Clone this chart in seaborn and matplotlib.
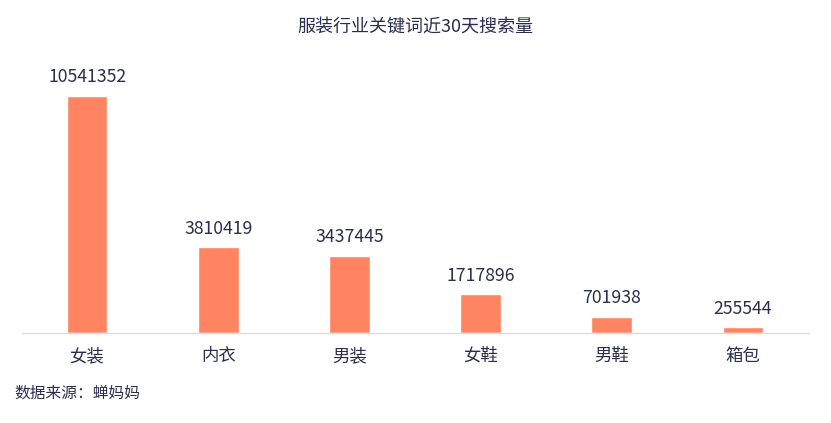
import matplotlib
matplotlib.use("Agg")
import matplotlib.pyplot as plt
import seaborn as sns
import pandas as pd

categories = ["女装", "内衣", "男装", "女鞋", "男鞋", "箱包"]
searches = [10541352, 3810419, 3437445, 1717896, 701938, 255544]

title = "服装行业关键词近30天搜索量"
source = "数据来源：蝉妈妈"

sns.set_theme(style="white")
plt.rcParams["font.family"] = ["Noto Sans CJK SC", "DejaVu Sans"]
plt.rcParams["font.weight"] = "light"

text_color = "#2b2d4e"
bar_color = "#ff8461"

df = pd.DataFrame({"category": categories, "searches": searches})

fig = plt.figure(figsize=(8.31, 4.23), dpi=100)
# axes placed in pixel terms: x 21.5-808.5, y 333 (baseline) up to 70
ax = fig.add_axes([21.5 / 831, (423 - 333) / 423, 787 / 831, 263 / 423])

sns.barplot(data=df, x="category", y="searches", color=bar_color,
            width=0.31, saturation=1, ax=ax)

ax.set_ylim(0, max(searches) * 263 / 237)
ax.set_xlim(-0.5, len(categories) - 0.5)

for i, v in enumerate(searches):
    ax.annotate(str(v), (i, v), xytext=(0, 7), textcoords="offset points",
                ha="center", va="bottom", fontsize=12.7, color=text_color)

ax.set_xlabel("")
ax.set_ylabel("")
ax.set_yticks([])
ax.tick_params(axis="x", length=0, pad=10, labelsize=12.5, labelcolor=text_color)
for side in ["top", "right", "left"]:
    ax.spines[side].set_visible(False)
ax.spines["bottom"].set_color("#dddddd")
ax.spines["bottom"].set_linewidth(1)

fig.text(0.5, 1 - 27 / 423, title, ha="center", va="center",
         fontsize=13, color=text_color)
fig.text(14 / 831, 1 - 393 / 423, source, ha="left", va="center",
         fontsize=11.3, color=text_color)

fig.savefig("out.png", dpi=100, facecolor="white")
